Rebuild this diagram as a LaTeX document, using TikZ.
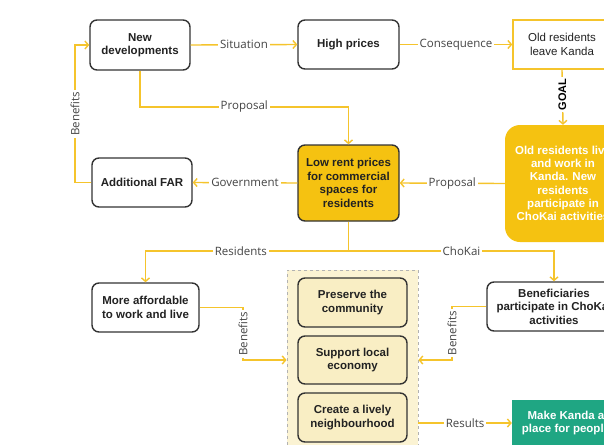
\documentclass[tikz,border=0pt]{standalone}
\usepackage{fontspec}
\setmainfont{Liberation Sans}
\newfontfamily\lblfont{Open Sans}
\usetikzlibrary{arrows.meta}
\definecolor{ylw}{HTML}{F5C42C}
\definecolor{yfill}{HTML}{F5C211}
\definecolor{bline}{HTML}{333333}
\definecolor{cream}{HTML}{FBF3D3}
\definecolor{cream2}{HTML}{F9EEC4}
\definecolor{grn}{HTML}{1FA683}
\definecolor{txt}{HTML}{222222}
\definecolor{lbltxt}{HTML}{444444}
\begin{document}
\begin{tikzpicture}[x=1pt,y=-1pt,
 box/.style={draw=bline, line width=1.4pt, rounded corners=7pt, fill=white, align=center, text=txt, font=\fontsize{11.5}{13.5}\selectfont\bfseries, inner sep=2pt},
 arr/.style={draw=ylw, line width=1.4pt, -{Straight Barb[length=3.5pt,width=8pt]}},
 conn/.style={draw=ylw, line width=1.4pt},
 lbl/.style={fill=white, text=lbltxt, font=\fontsize{11.5}{13.5}\selectfont\lblfont, inner sep=2pt},
 vlbl/.style={lbl, rotate=90},
 whitebold/.style={text=white, align=center, font=\fontsize{11.5}{13.3}\selectfont\bfseries, inner sep=2pt},
 container/.style={draw=gray!60, dashed, fill=cream, line width=0.8pt}
]
\fill[white] (0,0) rectangle (604,444);
\useasboundingbox (0,0) rectangle (604,444);
\clip (0,0) rectangle (604,444);

% nodes
\node[box, minimum width=100pt, minimum height=50pt] (nd) at (140,45) {New\\developments};
\node[box, minimum width=101pt, minimum height=49pt] (hp) at (348.5,44.5) {High prices};
\node[draw=ylw, line width=1.4pt, fill=white, minimum width=98pt, minimum height=49pt, align=center, text=txt, font=\fontsize{11.5}{13.5}\selectfont, inner sep=2pt] (ol) at (562,44.5) {Old residents\\leave Kanda};
\node[fill=yfill, rounded corners=15pt, minimum width=116pt, minimum height=117pt, whitebold] (goal) at (563,183.5) {Old residents live\\and work in\\Kanda. New\\residents\\participate in\\ChoKai activities};
\node[box, fill=yfill, minimum width=101pt, minimum height=76pt] (lr) at (348.5,183) {Low rent prices\\for commercial\\spaces for\\residents};
\node[box, minimum width=100pt, minimum height=49pt] (af) at (142,182.5) {Additional FAR};
\node[box, minimum width=107pt, minimum height=49pt] (ma) at (145.5,307.5) {More affordable\\to work and live};
\node[box, minimum width=134pt, minimum height=49pt] (bn) at (554,306.5) {Beneficiaries\\participate in ChoKai\\activities};
\node[container, minimum width=131pt, minimum height=190pt] (cont) at (352.5,365) {};
\node[box, fill=cream2, minimum width=109pt, minimum height=49pt] (c1) at (352.5,302.5) {Preserve the\\community};
\node[box, fill=cream2, minimum width=109pt, minimum height=48pt] (c2) at (352.5,360) {Support local\\economy};
\node[box, fill=cream2, minimum width=109pt, minimum height=49pt] (c3) at (352.5,417.5) {Create a lively\\neighbourhood};
\node[fill=grn, minimum width=108pt, minimum height=46pt, whitebold] (mk) at (566,423) {Make Kanda a\\place for people};

% helper coordinates
\coordinate (p) at (0,107);
\coordinate (j) at (348.5,251);
\coordinate (b1) at (75,182.5);
\coordinate (b2) at (243,307.5);
\coordinate (b3) at (243,360);
\coordinate (b4) at (452,306.5);
\coordinate (b5) at (452,360);

% connectors
\draw[arr] (nd.east) -- node[lbl]{Situation} (hp.west);
\draw[arr] (hp.east) -- node[lbl]{Consequence} (ol.west);
\draw[arr] (ol.south) -- node[fill=white, text=black, rotate=90, font=\fontsize{11}{13}\selectfont\bfseries, inner sep=1.5pt, pos=0.45]{GOAL} (goal.north);
\draw[arr] (goal.west) -- node[lbl]{Proposal} (lr.east);
\draw[arr] (lr.west) -- node[lbl]{Government} (af.east);
\draw[arr] (af.west) -- (b1) -- node[vlbl]{Benefits} (b1 |- nd.west) -- (nd.west);
\draw[arr] (nd.south) -- (nd.south |- p) -- node[lbl]{Proposal} (lr.north |- p) -- (lr.north);
\draw[conn] (lr.south) -- (j);
\draw[arr] (j) -- node[lbl, pos=0.53]{Residents} (j -| ma.north) -- (ma.north);
\draw[arr] (j) -- node[lbl, pos=0.55]{ChoKai} (j -| bn.north) -- (bn.north);
\draw[arr] (ma.east) -- (b2) -- node[vlbl]{Benefits} (b3) -- (b3 -| cont.west);
\draw[arr] (bn.west) -- (b4) -- node[vlbl]{Benefits} (b5) -- (b5 -| cont.east);
\draw[arr] (cont.east |- mk.west) -- node[lbl]{Results} (mk.west);
\end{tikzpicture}
\end{document}
